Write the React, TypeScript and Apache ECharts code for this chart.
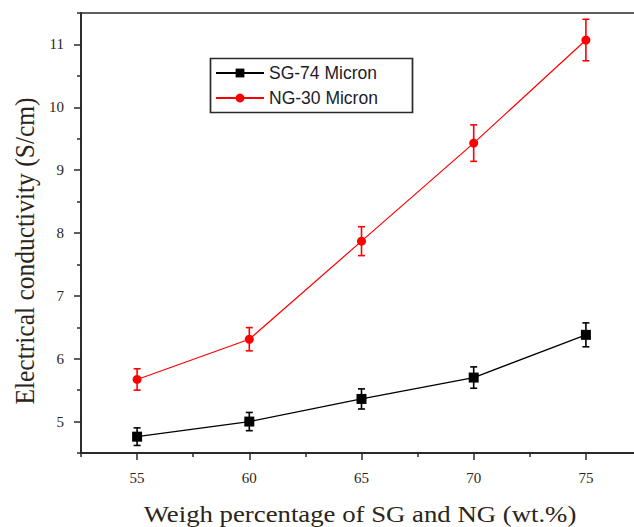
import React, { useEffect, useRef } from "react";
import * as echarts from "echarts";

const xValues = [55, 60, 65, 70, 75];
const sgValues = [4.76, 5.0, 5.36, 5.7, 6.38];
const sgErrors = [0.14, 0.145, 0.16, 0.17, 0.19];
const ngValues = [5.67, 6.31, 7.87, 9.43, 11.07];
const ngErrors = [0.17, 0.185, 0.23, 0.29, 0.33];
const xMajorTicks = [55, 60, 65, 70, 75];
const xMinorTicks = [52.5, 57.5, 62.5, 67.5, 72.5, 77.5];
const yMajorTicks = [5, 6, 7, 8, 9, 10, 11];
const yMinorTicks = [4.5, 5.5, 6.5, 7.5, 8.5, 9.5, 10.5, 11.5];
const seriesNames = ["SG-74 Micron", "NG-30 Micron"];
const xTitle = "Weigh percentage of SG and NG (wt.%)";
const yTitle = "Electrical conductivity (S/cm)";

const SERIF = "'Liberation Serif', 'Times New Roman', serif";
const SANS = "'Liberation Sans', Arial, sans-serif";
const AXIS_COLOR = "#2a2a2a";
const LABEL_COLOR = "#2b2418";

function errorSeries(values: number[], errors: number[], color: string) {
  return {
    type: "custom",
    xAxisIndex: 0,
    yAxisIndex: 0,
    z: 1,
    silent: true,
    data: xValues.map((x, i) => [x, values[i] - errors[i], values[i] + errors[i]]),
    encode: { x: 0, y: [1, 2] },
    renderItem: (_params: any, api: any) => {
      const x = api.value(0);
      const lo = api.coord([x, api.value(1)]);
      const hi = api.coord([x, api.value(2)]);
      const w = 3.5;
      const style = { stroke: color, lineWidth: 1.6 };
      return {
        type: "group",
        children: [
          { type: "line", shape: { x1: lo[0], y1: lo[1], x2: hi[0], y2: hi[1] }, style },
          { type: "line", shape: { x1: lo[0] - w, y1: lo[1], x2: lo[0] + w, y2: lo[1] }, style },
          { type: "line", shape: { x1: hi[0] - w, y1: hi[1], x2: hi[0] + w, y2: hi[1] }, style },
        ],
      };
    },
  };
}

export default function App() {
  const ref = useRef<HTMLDivElement>(null);
  useEffect(() => {
    if (!ref.current) return;
    const chart = echarts.init(ref.current, undefined, { renderer: "svg" });
    const axisLine = { show: true, lineStyle: { color: AXIS_COLOR, width: 1.8 } };
    const labelStyle = { fontFamily: SERIF, fontSize: 15, color: LABEL_COLOR };
    chart.setOption({
      animation: false,
      backgroundColor: "#ffffff",
      grid: {
        left: 81,
        top: 13,
        width: 561,
        height: 440,
        outerBoundsMode: "none",
        containLabel: false,
        show: true,
        borderColor: AXIS_COLOR,
        borderWidth: 1.6,
        backgroundColor: "transparent",
      },
      legend: {
        data: seriesNames,
        left: 210,
        top: 58,
        z: 10,
        orient: "vertical",
        padding: [6, 10, 6, 5],
        itemGap: 7,
        itemWidth: 48,
        itemHeight: 11,
        borderWidth: 0,
        backgroundColor: "transparent",
        textStyle: {
          fontFamily: SANS,
          fontSize: 17.5,
          color: "#1c1c2a",
          lineHeight: 18,
        },
      },
      xAxis: [
        {
          type: "value",
          min: 52.5,
          max: 77.5,
          position: "bottom",
          axisLine,
          axisTick: { show: true, customValues: xMajorTicks, length: 7, lineStyle: { color: AXIS_COLOR, width: 1.5 } },
          axisLabel: { customValues: xMajorTicks, margin: 17, ...labelStyle },
          splitLine: { show: false },
        },
        {
          type: "value",
          min: 52.5,
          max: 77.5,
          position: "bottom",
          axisLine: { show: false },
          axisTick: { show: true, customValues: xMinorTicks, length: 4, lineStyle: { color: AXIS_COLOR, width: 1.5 } },
          axisLabel: { show: false },
          splitLine: { show: false },
        },
      ],
      yAxis: [
        {
          type: "value",
          min: 4.5,
          max: 11.5,
          position: "left",
          axisLine,
          axisTick: { show: true, customValues: yMajorTicks, length: 7, lineStyle: { color: AXIS_COLOR, width: 1.5 } },
          axisLabel: { customValues: yMajorTicks, margin: 17, ...labelStyle },
          splitLine: { show: false },
        },
        {
          type: "value",
          min: 4.5,
          max: 11.5,
          position: "left",
          axisLine: { show: false },
          axisTick: { show: true, customValues: yMinorTicks, length: 4, lineStyle: { color: AXIS_COLOR, width: 1.5 } },
          axisLabel: { show: false },
          splitLine: { show: false },
        },
      ],
      graphic: [
        {
          type: "rect",
          z: 5,
          shape: { x: 210.5, y: 58.5, width: 202, height: 54 },
          style: { fill: "#ffffff", stroke: AXIS_COLOR, lineWidth: 1.7 },
        },
        {
          type: "text",
          x: 360,
          y: 514,
          scaleX: 1.19,
          style: {
            text: xTitle,
            fontFamily: SERIF,
            fontSize: 22.5,
            fill: LABEL_COLOR,
            align: "center",
            verticalAlign: "middle",
          },
        },
        {
          type: "text",
          x: 25,
          y: 251,
          rotation: Math.PI / 2,
          scaleY: 1.1,
          style: {
            text: yTitle,
            fontFamily: SERIF,
            fontSize: 25.5,
            fill: LABEL_COLOR,
            align: "center",
            verticalAlign: "middle",
          },
        },
      ],
      series: [
        errorSeries(sgValues, sgErrors, "#000000"),
        errorSeries(ngValues, ngErrors, "#ff0000"),
        {
          name: seriesNames[0],
          type: "line",
          z: 3,
          data: xValues.map((x, i) => [x, sgValues[i]]),
          symbol: "rect",
          symbolSize: 10,
          itemStyle: { color: "#000000" },
          lineStyle: { color: "#000000", width: 1.3 },
        },
        {
          name: seriesNames[1],
          type: "line",
          z: 3,
          data: xValues.map((x, i) => [x, ngValues[i]]),
          symbol: "circle",
          symbolSize: 9,
          itemStyle: { color: "#ff0000" },
          lineStyle: { color: "#ff0000", width: 1.2 },
        },
      ],
    });
    return () => chart.dispose();
  }, []);
  return <div ref={ref} style={{ width: 634, height: 527, position: "absolute", left: 0, top: 0 }} />;
}
